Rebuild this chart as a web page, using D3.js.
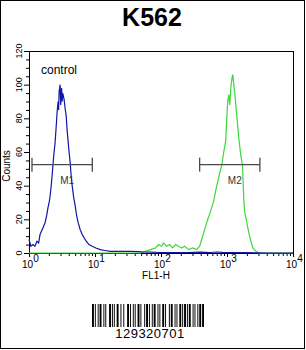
<!DOCTYPE html>
<html>
<head>
<meta charset="utf-8">
<script src="https://cdn.jsdelivr.net/npm/d3@7"></script>
<style>
	body { margin: 0; background: #fff; }
	svg { display: block; font-family: "Liberation Sans", Arial, sans-serif; }
</style>
</head>
<body>
<div id="chart"></div>
<script>
// histogram data (FL1-H value, counts)
var controlFl1 = [1.00, 1.07, 1.15, 1.23, 1.32, 1.40, 1.47, 1.55, 1.63, 1.75, 1.85, 1.94, 2.02, 2.09, 2.17, 2.24, 2.36, 2.49, 2.58, 2.67, 2.76, 2.81, 2.86, 2.96, 3.02, 3.07, 3.12, 3.18, 3.24, 3.29, 3.41, 3.52, 3.65, 3.78, 3.92, 4.05, 4.20, 4.35, 4.51, 4.75, 5.01, 5.28, 5.56, 5.95, 6.40, 6.85, 7.36, 8.10, 9.08, 10.3, 12.0, 14.2, 17.1, 22.0, 27.5, 34.4, 45.0, 55.0, 69.2, 98.5, 150, 250, 399, 560, 700, 850, 1140, 2000, 4000, 10000];
var controlCounts = [8, 4, 5, 4, 7, 6, 11, 13, 15, 18, 22, 27, 30, 34, 40, 46, 57, 66, 75, 84, 90, 85, 96, 100, 88, 92, 98, 90, 95, 94, 91, 86, 82, 73, 66, 60, 54, 46, 40, 33, 28, 22, 18, 14, 11, 9, 7, 5, 4, 3, 2, 1.5, 1, 1, 1, 1, 0.8, 0.6, 0.5, 0.3, 0.3, 0.3, 0.5, 0.3, 0.6, 0.4, 0.3, 0.2, 0, 0];

var sampleFl1 = [1.00, 48.8, 58.1, 69.2, 82.4, 91.6, 101.8, 109.1, 121.3, 134.7, 149.6, 166.3, 184.6, 205.1, 227.8, 261.9, 301.2, 346.4, 385.3, 413, 443, 492, 566, 629, 674, 749, 832, 893, 958, 991, 1026, 1063, 1101, 1141, 1181, 1223, 1267, 1313, 1359, 1442, 1510, 1619, 1718, 1798, 1862, 1997, 2142, 2297, 2464, 2737, 3040, 10000];
var sampleCounts = [0, 0, 1, 2, 3, 5, 4, 6, 4, 5, 3, 5, 4, 3, 4, 2, 3, 2, 4, 8, 12, 18, 25, 31, 37, 45, 52, 60, 67, 80, 90, 94, 88, 98, 103, 106, 100, 95, 88, 77, 68, 58, 52, 31, 24, 18, 12, 7, 3, 1, 0, 0];

// gates
var gateNames = ["M1", "M2"];
var gateFrom = [1.11, 385];
var gateTo = [9.1, 3150];
var gateLevel = 52.5;

var xMajor = [1, 10, 100, 1000, 10000];
var xExponents = ["0", "1", "2", "3", "4"];
var yMajor = [0, 20, 40, 60, 80, 100, 120];

// barcode bar/space widths, bar first
var barcodeWidths = [2, 1, 1, 2, 1, 1, 2, 2, 1, 1, 1, 3, 2, 1, 1, 1, 1, 2, 2, 2, 1, 2, 1, 3, 2, 1, 1, 2, 1, 1, 1, 2, 2, 1, 1, 3, 1, 1, 2, 1, 1, 2, 1, 1, 2, 2, 1, 1, 1, 2, 2, 1, 1, 3, 1, 1, 2, 2, 1, 1, 1, 2, 2, 1, 1, 1, 2, 1, 1, 1, 2, 2, 1, 1, 1, 2, 1, 1, 2, 1, 2];

var width = 306, height = 350;
var plotL = 29, plotR = 293, plotT = 51, plotB = 253;

var svg = d3.select("#chart").append("svg")
	.attr("width", width)
	.attr("height", height);

svg.append("rect")
	.attr("x", 0.5).attr("y", 0.5)
	.attr("width", width - 2).attr("height", height - 2)
	.attr("fill", "none").attr("stroke", "#000");

svg.append("text")
	.attr("x", 152).attr("y", 26)
	.attr("text-anchor", "middle")
	.attr("font-size", "25px")
	.attr("font-weight", "bold")
	.text("K562");

var x = d3.scaleLog().domain([1, 10000]).range([plotL, plotR]);
var y = d3.scaleLinear().domain([0, 120]).range([plotB, plotT]);

// x ticks (log minor + major)
var xTicks = [];
xMajor.slice(0, 4).forEach(function(d) {
	for (var k = 1; k < 10; k++) xTicks.push(d * k);
});
xTicks.push(10000);

svg.append("g")
	.attr("transform", "translate(0," + plotB + ")")
	.call(d3.axisBottom(x).tickValues(xTicks).tickSize(3).tickFormat(""))
	.call(function(g) {
		g.select(".domain").remove();
		g.selectAll(".tick line").attr("y2", function(d) {
			return xMajor.indexOf(d) >= 0 ? 4 : 3;
		});
	});

var xLab = svg.append("g").selectAll("text")
	.data(xMajor)
	.enter().append("text")
	.attr("x", function(d) { return x(d) - 7; })
	.attr("y", 268)
	.attr("font-size", "10px");
xLab.append("tspan").text("10");
xLab.append("tspan")
	.attr("dy", -6)
	.text(function(d, i) { return xExponents[i]; });

svg.append("text")
	.attr("x", 156).attr("y", 279)
	.attr("text-anchor", "middle")
	.attr("font-size", "10px")
	.text("FL1-H");

// y ticks
svg.append("g")
	.attr("transform", "translate(" + plotL + ",0)")
	.call(d3.axisLeft(y).tickValues(d3.range(0, 121, 5)).tickSize(3).tickFormat(""))
	.call(function(g) {
		g.select(".domain").remove();
		g.selectAll(".tick line").attr("x2", function(d) {
			return d % 20 === 0 ? -5 : -3;
		});
	});

svg.append("g").selectAll("text")
	.data(yMajor)
	.enter().append("text")
	.attr("transform", function(d) {
		return "translate(22," + y(d) + ") rotate(-90)";
	})
	.attr("text-anchor", "middle")
	.attr("font-size", "9px")
	.text(function(d) { return d; });

svg.append("text")
	.attr("transform", "translate(10,166) rotate(-90)")
	.attr("text-anchor", "middle")
	.attr("font-size", "10px")
	.text("Counts");

// plot frame
svg.append("rect")
	.attr("x", plotL + 0.5).attr("y", plotT + 0.5)
	.attr("width", plotR - plotL).attr("height", plotB - plotT)
	.attr("fill", "none").attr("stroke", "#000");

var line = d3.line()
	.x(function(d) { return x(d[0]); })
	.y(function(d) { return y(d[1]); });

svg.append("path")
	.datum(d3.zip(sampleFl1, sampleCounts))
	.attr("d", line)
	.attr("fill", "none")
	.attr("stroke", "#3ad83a")
	.attr("stroke-width", 1.2);

svg.append("path")
	.datum(d3.zip(controlFl1, controlCounts))
	.attr("d", line)
	.attr("fill", "none")
	.attr("stroke", "#1414a8")
	.attr("stroke-width", 1.2);

svg.append("text")
	.attr("x", 41).attr("y", 74)
	.attr("font-size", "12px")
	.text("control");

// gates
var gates = svg.append("g").selectAll("g")
	.data(gateNames)
	.enter().append("g")
	.attr("stroke", "#4a4a4a")
	.attr("stroke-width", 1.3);
gates.append("line")
	.attr("x1", function(d, i) { return x(gateFrom[i]); })
	.attr("x2", function(d, i) { return x(gateTo[i]); })
	.attr("y1", y(gateLevel)).attr("y2", y(gateLevel));
gates.append("line")
	.attr("x1", function(d, i) { return x(gateFrom[i]); })
	.attr("x2", function(d, i) { return x(gateFrom[i]); })
	.attr("y1", y(gateLevel) - 7).attr("y2", y(gateLevel) + 7);
gates.append("line")
	.attr("x1", function(d, i) { return x(gateTo[i]); })
	.attr("x2", function(d, i) { return x(gateTo[i]); })
	.attr("y1", y(gateLevel) - 7).attr("y2", y(gateLevel) + 7);
gates.append("text")
	.attr("stroke", "none")
	.attr("fill", "#333")
	.attr("x", function(d, i) { return (x(gateFrom[i]) + x(gateTo[i])) / 2 + 5; })
	.attr("y", y(gateLevel) + 19)
	.attr("text-anchor", "middle")
	.attr("font-size", "10px")
	.text(function(d) { return d; });

// barcode
var bx = 0, bars = [];
barcodeWidths.forEach(function(w, i) {
	if (i % 2 === 0) bars.push([bx, w]);
	bx += w;
});
var bScale = 112 / bx;
svg.append("g").selectAll("rect")
	.data(bars)
	.enter().append("rect")
	.attr("x", function(d) { return 92 + d[0] * bScale; })
	.attr("y", 304)
	.attr("width", function(d) { return d[1] * bScale; })
	.attr("height", 23)
	.attr("fill", "#000");

svg.append("text")
	.attr("x", 150).attr("y", 338)
	.attr("text-anchor", "middle")
	.attr("font-size", "13px")
	.attr("letter-spacing", "0.5px")
	.text("129320701");
</script>
</body>
</html>
